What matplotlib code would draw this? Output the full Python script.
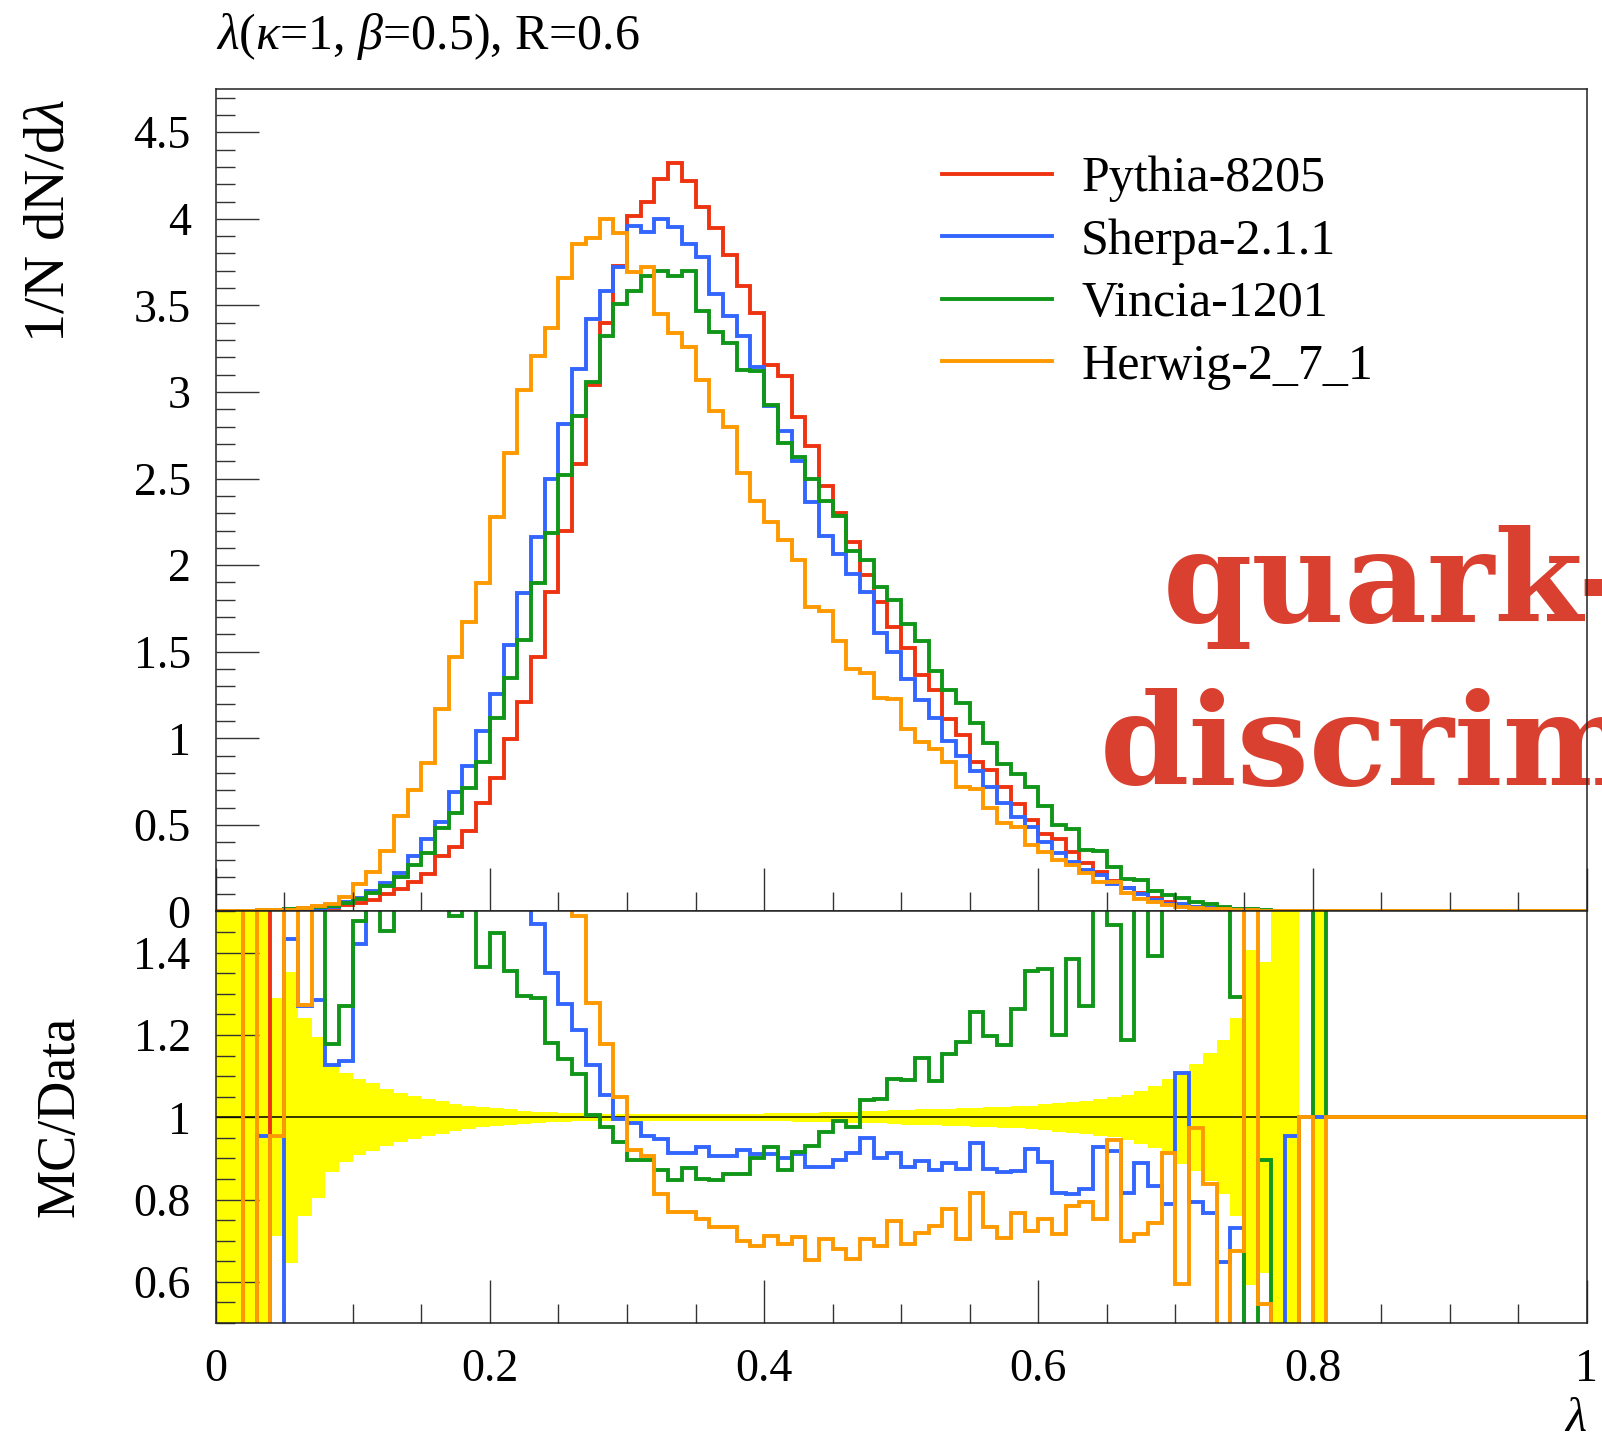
import numpy as np
import matplotlib
matplotlib.use('Agg')
import matplotlib.pyplot as plt
from matplotlib.ticker import MultipleLocator, FuncFormatter

plt.rcParams['font.family'] = ['Liberation Serif', 'DejaVu Serif']
plt.rcParams['mathtext.fontset'] = 'custom'
plt.rcParams['mathtext.rm'] = 'Liberation Serif'
plt.rcParams['mathtext.it'] = 'Liberation Serif:italic'

# 100 bins of width 0.01 in lambda
lam_edges = np.round(np.arange(101) * 0.01, 2)

labels = ['Pythia-8205', 'Sherpa-2.1.1', 'Vincia-1201', 'Herwig-2_7_1']
colors = ['#ee3311', '#3366ff', '#109618', '#ff9900']

# 1/N dN/dlambda per bin
pythia = [0.0, 0.001, 0.002, 0.003, 0.004, 0.005, 0.007, 0.01, 0.02, 0.035,
          0.05, 0.065, 0.10, 0.13, 0.17, 0.219, 0.32, 0.375, 0.467, 0.628,
          0.768, 0.996, 1.21, 1.47, 1.845, 2.20, 2.585, 3.04, 3.40, 3.726,
          4.015, 4.10, 4.23, 4.32, 4.22, 4.07, 3.946, 3.79, 3.61, 3.456,
          3.158, 3.094, 2.858, 2.686, 2.46, 2.30, 2.135, 1.946, 1.79, 1.645,
          1.52, 1.364, 1.279, 1.11, 1.019, 0.865, 0.817, 0.72, 0.62, 0.53,
          0.45, 0.416, 0.345, 0.281, 0.229, 0.176, 0.133, 0.104, 0.079, 0.056,
          0.037, 0.027, 0.02, 0.014, 0.009, 0.006, 0.004, 0.003, 0.002, 0.0,
          0.001, 0, 0, 0, 0, 0, 0, 0, 0, 0,
          0, 0, 0, 0, 0, 0, 0, 0, 0, 0]
sherpa = [0.0, 0.0, 0.001, 0.002, 0.003, 0.004, 0.006, 0.01, 0.025, 0.054,
          0.079, 0.12, 0.164, 0.225, 0.32, 0.416, 0.514, 0.69, 0.84, 1.04,
          1.255, 1.54, 1.84, 2.165, 2.50, 2.817, 3.135, 3.424, 3.584, 3.72,
          3.96, 3.925, 4.00, 3.95, 3.855, 3.778, 3.566, 3.437, 3.325, 3.144,
          2.917, 2.777, 2.60, 2.362, 2.17, 2.063, 1.95, 1.844, 1.61, 1.50,
          1.34, 1.221, 1.115, 0.986, 0.898, 0.813, 0.72, 0.628, 0.547, 0.49,
          0.40, 0.339, 0.285, 0.239, 0.21, 0.161, 0.133, 0.10, 0.069, 0.046,
          0.043, 0.027, 0.02, 0.013, 0.009, 0.006, 0.004, 0.003, 0.002, 0.001,
          0, 0, 0, 0, 0, 0, 0, 0, 0, 0,
          0, 0, 0, 0, 0, 0, 0, 0, 0, 0]
vincia = [0.001, 0.002, 0.004, 0.006, 0.01, 0.015, 0.02, 0.025, 0.03, 0.05,
          0.075, 0.105, 0.15, 0.2, 0.268, 0.339, 0.485, 0.57, 0.711, 0.861,
          1.115, 1.347, 1.568, 1.896, 2.185, 2.52, 2.86, 3.056, 3.325, 3.51,
          3.584, 3.672, 3.70, 3.67, 3.697, 3.466, 3.347, 3.283, 3.125, 3.12,
          2.925, 2.705, 2.624, 2.497, 2.37, 2.285, 2.084, 2.03, 1.873, 1.80,
          1.66, 1.562, 1.39, 1.279, 1.206, 1.087, 0.975, 0.851, 0.794, 0.72,
          0.61, 0.499, 0.474, 0.355, 0.352, 0.258, 0.185, 0.181, 0.117, 0.098,
          0.08, 0.056, 0.043, 0.027, 0.016, 0.012, 0.008, 0.005, 0.004, 0.003,
          0.002, 0.001, 0, 0, 0, 0, 0, 0, 0, 0,
          0, 0, 0, 0, 0, 0, 0, 0, 0, 0]
herwig = [0.002, 0.003, 0.004, 0.006, 0.008, 0.01, 0.02, 0.03, 0.045, 0.085,
          0.16, 0.23, 0.35, 0.55, 0.70, 0.855, 1.17, 1.467, 1.673, 1.896,
          2.28, 2.65, 3.01, 3.21, 3.37, 3.66, 3.855, 3.89, 4.00, 3.92,
          3.695, 3.72, 3.45, 3.34, 3.26, 3.07, 2.89, 2.80, 2.53, 2.37,
          2.25, 2.146, 2.027, 1.757, 1.738, 1.564, 1.40, 1.375, 1.233, 1.228,
          1.056, 0.979, 0.94, 0.861, 0.72, 0.71, 0.60, 0.512, 0.49, 0.383,
          0.345, 0.297, 0.268, 0.224, 0.171, 0.171, 0.108, 0.075, 0.056, 0.037,
          0.025, 0.02, 0.016, 0.012, 0.009, 0.006, 0.005, 0.004, 0.003, 0.002,
          0.001, 0, 0, 0, 0, 0, 0, 0, 0, 0,
          0, 0, 0, 0, 0, 0, 0, 0, 0, 0]

# MC/Data per bin (0.0 / 2.0 = off the bottom / top of the panel, nan = hidden under the unit line)
nan = float('nan')
ratio_pythia = [2.0, 2.0, 0.0, 0.0, 2.0] + [nan] * 95
ratio_sherpa = [0.0, 0.0, 0.0, 0.954, 0.0, 1.432, 1.27, 1.286, 1.126, 1.136,
                1.422, 2.0, 2.0, 2.0, 2.0, 2.0, 2.0, 2.0, 2.0, 2.0,
                2.0, 2.0, 2.0, 1.47, 1.35, 1.275, 1.212, 1.128, 1.053, 0.997,
                0.986, 0.954, 0.948, 0.913, 0.913, 0.928, 0.906, 0.906, 0.92, 0.91,
                0.91, 0.90, 0.91, 0.88, 0.88, 0.895, 0.913, 0.95, 0.902, 0.913,
                0.88, 0.894, 0.872, 0.888, 0.874, 0.938, 0.874, 0.867, 0.87, 0.922,
                0.892, 0.815, 0.813, 0.826, 0.928, 0.918, 0.815, 0.888, 0.832, 0.79,
                1.107, 0.794, 0.767, 0.648, 0.73, 0.0, 0.0, 0.0, 0.954, 1,
                1, 1, 1, 1, 1, 1, 1, 1, 1, 1,
                1, 1, 1, 1, 1, 1, 1, 1, 1, 1]
ratio_vincia = [2.0, 2.0, 2.0, 2.0, 2.0, 2.0, 2.0, 2.0, 1.177, 1.27,
                1.477, 2.0, 1.453, 2.0, 2.0, 2.0, 2.0, 1.49, 2.0, 1.364,
                1.447, 1.355, 1.294, 1.29, 1.18, 1.142, 1.106, 1.005, 0.976, 0.94,
                0.895, 0.897, 0.873, 0.847, 0.876, 0.85, 0.848, 0.862, 0.862, 0.90,
                0.928, 0.872, 0.916, 0.93, 0.963, 0.991, 0.976, 1.041, 1.045, 1.094,
                1.091, 1.144, 1.088, 1.153, 1.183, 1.256, 1.197, 1.175, 1.264, 1.356,
                1.36, 1.199, 1.384, 1.27, 2.0, 1.467, 1.188, 2.0, 1.391, 2.0,
                2.0, 2.0, 2.0, 2.0, 1.292, 0.0, 0.897, 0.0, 0.0, 1,
                2.0, 1, 1, 1, 1, 1, 1, 1, 1, 1,
                1, 1, 1, 1, 1, 1, 1, 1, 1, 1]
ratio_herwig = [0.0, 0.0, 2.0, 0.0, 0.954, 2.0, 1.274, 2.0, 2.0, 2.0,
                2.0, 2.0, 2.0, 2.0, 2.0, 2.0, 2.0, 2.0, 2.0, 2.0,
                2.0, 2.0, 2.0, 2.0, 2.0, 2.0, 1.49, 1.278, 1.177, 1.05,
                0.921, 0.907, 0.814, 0.771, 0.771, 0.753, 0.733, 0.733, 0.70, 0.688,
                0.712, 0.692, 0.708, 0.653, 0.704, 0.68, 0.656, 0.704, 0.688, 0.749,
                0.692, 0.72, 0.737, 0.778, 0.703, 0.817, 0.733, 0.707, 0.767, 0.724,
                0.753, 0.717, 0.784, 0.794, 0.753, 0.945, 0.70, 0.717, 0.743, 0.913,
                0.596, 0.973, 0.839, 0.0, 0.676, 2.0, 0.547, 0.0, 0.0, 1,
                0.0, 1, 1, 1, 1, 1, 1, 1, 1, 1,
                1, 1, 1, 1, 1, 1, 1, 1, 1, 1]
# relative uncertainty of the reference (yellow band half-width)
band_hw = [0.6, 0.6, 0.6, 0.6, 0.289, 0.354, 0.24, 0.195, 0.132, 0.108,
           0.092, 0.083, 0.069, 0.06, 0.052, 0.045, 0.04, 0.033, 0.028, 0.024,
           0.022, 0.019, 0.016, 0.014, 0.012, 0.0105, 0.0095, 0.009, 0.0085, 0.008,
           0.008, 0.008, 0.008, 0.008, 0.008, 0.008, 0.008, 0.0085, 0.009, 0.009,
           0.0095, 0.01, 0.0105, 0.011, 0.012, 0.0125, 0.013, 0.015, 0.015, 0.017,
           0.018, 0.019, 0.02, 0.021, 0.022, 0.023, 0.024, 0.025, 0.027, 0.028,
           0.032, 0.035, 0.038, 0.04, 0.045, 0.049, 0.055, 0.064, 0.075, 0.092,
           0.113, 0.13, 0.156, 0.187, 0.241, 0.407, 0.378, 0.6, 0.6, 0.0,
           0.6, 0, 0, 0, 0, 0, 0, 0, 0, 0,
           0, 0, 0, 0, 0, 0, 0, 0, 0, 0]

series = [pythia, sherpa, vincia, herwig]
ratios = [ratio_pythia, ratio_sherpa, ratio_vincia, ratio_herwig]

fig = plt.figure(figsize=(16.02, 14.37), dpi=100)
ax_top = fig.add_axes([0.1346, 0.3657, 0.8559, 0.5724])
ax_bot = fig.add_axes([0.1346, 0.0793, 0.8559, 0.2864])

LW = 2.8
for vals, c, lab in zip(series, colors, labels):
    ax_top.stairs(vals, lam_edges, color=c, lw=LW, baseline=None, label=lab)

hw = np.array(band_hw)
ax_bot.stairs(1 + hw, lam_edges, baseline=1 - hw, fill=True, color='#ffff00', lw=0, zorder=1)
ax_bot.axhline(1, color='black', lw=1.1, zorder=1.8)
for vals, c, z in zip(ratios, colors, [2.0, 2.1, 2.2, 2.3]):
    ax_bot.stairs(vals, lam_edges, color=c, lw=LW, baseline=None, zorder=z)

ax_top.set_xlim(0, 1)
ax_top.set_ylim(0, 4.75)
ax_bot.set_xlim(0, 1)
ax_bot.set_ylim(0.5, 1.5)

fmt = FuncFormatter(lambda v, _: f'{v:g}')
for ax in (ax_top, ax_bot):
    ax.xaxis.set_major_locator(MultipleLocator(0.2))
    ax.xaxis.set_minor_locator(MultipleLocator(0.05))
    ax.tick_params(which='both', direction='in', top=False, right=False,
                   color='#333333', width=1.0, labelsize=33)
    ax.tick_params(which='major', length=31)
    ax.tick_params(which='minor', length=13.7)
    ax.tick_params(axis='y', pad=18)
    ax.tick_params(axis='x', pad=18.5)
    ax.xaxis.set_major_formatter(fmt)
    ax.yaxis.set_major_formatter(fmt)
    for sp in ax.spines.values():
        sp.set_linewidth(1.1)
        sp.set_color('#222222')
ax_top.yaxis.set_major_locator(MultipleLocator(0.5))
ax_top.yaxis.set_minor_locator(MultipleLocator(0.1))
ax_top.tick_params(axis='x', labelbottom=False)
ax_bot.yaxis.set_major_locator(MultipleLocator(0.2))
ax_bot.yaxis.set_minor_locator(MultipleLocator(0.05))

ax_top.set_ylabel(r'1/N dN/d$\lambda$', fontsize=42)
ax_top.yaxis.set_label_coords(-0.121, 0.84)
ax_top.yaxis.label.set_va('center')
ax_bot.set_ylabel('MC/Data', fontsize=39)
ax_bot.yaxis.set_label_coords(-0.113, 0.503)
ax_bot.yaxis.label.set_va('center')
ax_bot.set_xlabel(r'$\lambda$', fontsize=35, ha='right', va='top')
ax_bot.xaxis.set_label_coords(1.0, -0.18)

ax_top.text(0.0, 1.064, r'$\lambda(\kappa$=1, $\beta$=0.5), R=0.6', transform=ax_top.transAxes,
            fontsize=36, ha='left', va='center')

ax_top.legend(loc='upper left', bbox_to_anchor=(0.5298, 0.919), frameon=False, fontsize=36,
              handlelength=2.2, handletextpad=0.58, labelspacing=0.32, borderpad=0, borderaxespad=0)

# slide overlay, runs off the right edge of the figure
ax_top.text(0.7255, 0.5675, 'quark-', transform=fig.transFigure, fontsize=92, color='#d94030',
            family='DejaVu Serif', fontweight='bold', ha='left', va='baseline', clip_on=False, zorder=2.4)
ax_top.text(0.6865, 0.4537, 'discrim', transform=fig.transFigure, fontsize=92, color='#d94030',
            family='DejaVu Serif', fontweight='bold', ha='left', va='baseline', clip_on=False, zorder=2.4)

fig.savefig('out.png', dpi=100)
